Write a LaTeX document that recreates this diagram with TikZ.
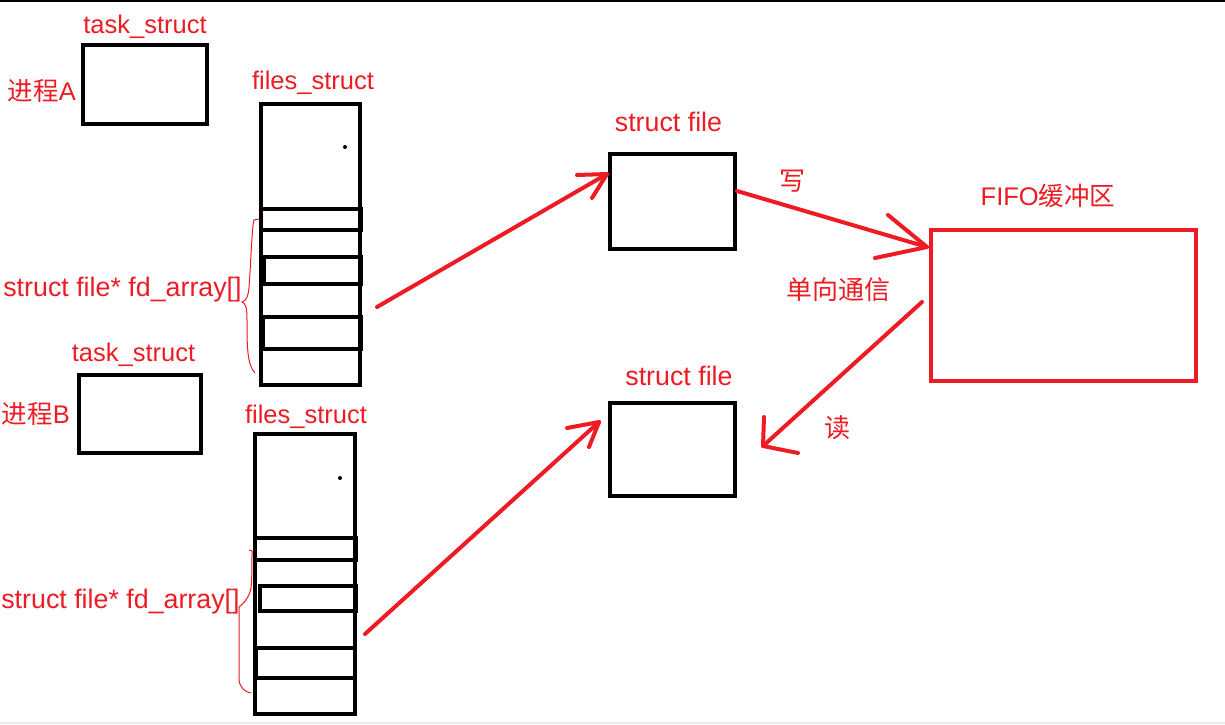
\documentclass[tikz,border=0pt]{standalone}
\usepackage{fontspec}
\setmainfont{Liberation Sans}
\newfontfamily\cjk{Noto Sans CJK SC}
\definecolor{pred}{HTML}{ED1C24}
\definecolor{stripgray}{HTML}{EBEBEF}
\begin{document}
\begin{tikzpicture}[x=1pt,y=-1pt,
  bx/.style={draw=black, line width=4pt, inner sep=0pt, outer sep=0pt, anchor=north west},
  fifo/.style={draw=pred, line width=4.5pt, inner sep=0pt, outer sep=0pt, anchor=north west},
  lbl/.style={text=pred, inner sep=0pt, anchor=base, font=\fontsize{25.5}{28}\selectfont},
  biglbl/.style={lbl, font=\fontsize{26.8}{29}\selectfont},
  clbl/.style={text=pred, inner sep=0pt, anchor=center, font=\fontsize{26}{28}\selectfont\cjk},
  redarrow/.style={draw=pred, line width=4pt, line cap=round, line join=round},
  brace/.style={draw=pred, line width=1pt}]
\useasboundingbox (0,0) rectangle (1225,724);
\fill[white] (0,0) rectangle (1225,724);
\draw[line width=2pt] (0,1) -- (1225,1);
\fill[stripgray] (0,722) rectangle (1225,724);

% process A
\node[bx, minimum width=124pt, minimum height=79pt] (taskA) at (83,45) {};
\node[lbl] (taskAlbl) at (145,33) {task\_struct};
\node[lbl] (procA) at (42,100) {{\cjk 进程}A};
\node[bx, minimum width=99pt, minimum height=281pt] (filesA) at (261,104) {};
\node[lbl] (filesAlbl) at (313,89) {files\_struct};
\node[bx, minimum width=100pt, minimum height=21pt] (a1) at (261,209) {};
\node[bx, minimum width=97pt, minimum height=27pt] (a2) at (264,257) {};
\node[bx, minimum width=98pt, minimum height=32pt] (a3) at (263,317) {};
\fill (345,147) circle (2pt);
\node[biglbl] (fdA) at (122.5,296) {struct file* fd\_array[]};
\draw[brace] (259,219) -- (254,220) .. controls (252,226) and (251,260) .. (249,288)
  .. controls (248,297) and (246,301) .. (242,302)
  .. controls (246,304) and (247,308) .. (247,320)
  .. controls (247,345) and (247,365) .. (255,373);

% process B
\node[bx, minimum width=122pt, minimum height=78pt] (taskB) at (79,375) {};
\node[lbl] (taskBlbl) at (133.5,361) {task\_struct};
\node[lbl] (procB) at (36,423) {{\cjk 进程}B};
\node[bx, minimum width=100pt, minimum height=280pt] (filesB) at (255,434) {};
\node[lbl] (filesBlbl) at (306,423) {files\_struct};
\node[bx, minimum width=101pt, minimum height=22pt] (b1) at (255,538) {};
\node[bx, minimum width=96pt, minimum height=25pt] (b2) at (260,586) {};
\node[bx, minimum width=99pt, minimum height=30pt] (b3) at (256,648) {};
\fill (340,478) circle (2pt);
\node[biglbl] (fdB) at (120.5,608) {struct file* fd\_array[]};
\draw[brace] (249,550) -- (252,551) .. controls (252,565) and (252,580) .. (251,588)
  .. controls (249,598) and (243,604) .. (239,607)
  .. controls (239,630) and (239,660) .. (239,680)
  .. controls (240,688) and (245,692) .. (251,693);

% struct file boxes
\node[bx, minimum width=125pt, minimum height=95pt] (fileA) at (610,154) {};
\node[biglbl] (fileAlbl) at (668.5,131) {struct file};
\node[bx, minimum width=125pt, minimum height=93pt] (fileB) at (610,403) {};
\node[biglbl] (fileBlbl) at (679,385) {struct file};

% FIFO
\node[fifo, minimum width=265pt, minimum height=151pt] (fifo) at (931,230) {};
\node[lbl, anchor=center] (fifolbl) at (1048,196) {FIFO{\cjk 缓冲区}};
\node[clbl] (write) at (792,181) {写};
\node[clbl] (oneway) at (838,290) {单向通信};
\node[clbl] (read) at (837,428) {读};

% arrows
\coordinate (aS) at (377,307); \coordinate (aT) at (607,174);
\coordinate (aH1) at (577,175); \coordinate (aH2) at (592,198);
\draw[redarrow] (aS) -- (aT);
\draw[redarrow] (aH1) -- (aT) -- (aH2);

\coordinate (bS) at (365,634); \coordinate (bT) at (599,422);
\coordinate (bH1) at (567,428); \coordinate (bH2) at (589,447);
\draw[redarrow] (bS) -- (bT);
\draw[redarrow] (bH1) -- (bT) -- (bH2);

\coordinate (wS) at (737,191); \coordinate (wT) at (927,247);
\coordinate (wH1) at (888,215); \coordinate (wH2) at (875,258);
\draw[redarrow] (wS) -- (wT);
\draw[redarrow] (wH1) -- (wT) -- (wH2);

\coordinate (rS) at (922,302); \coordinate (rT) at (763,446);
\coordinate (rH1) at (764,417); \coordinate (rH2) at (798,453);
\draw[redarrow] (rS) -- (rT);
\draw[redarrow] (rH1) -- (rT) -- (rH2);
\end{tikzpicture}
\end{document}
